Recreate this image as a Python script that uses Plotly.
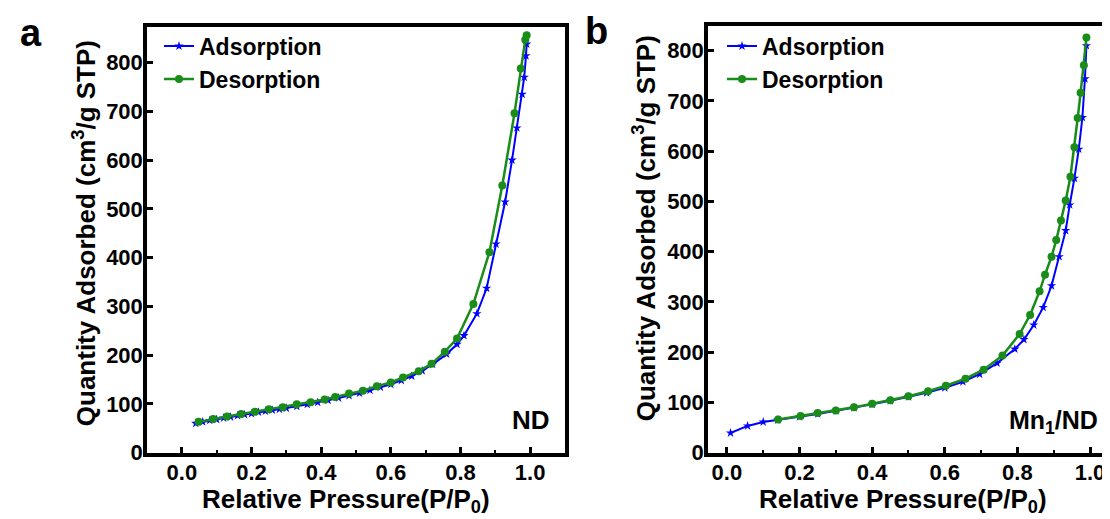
import plotly.graph_objects as go

W, H = 1110, 519

# ---------------- Data ----------------
# Panel a: ND
nd_ads_x = [0.04, 0.06, 0.08, 0.10, 0.12, 0.14, 0.16, 0.18, 0.20, 0.22, 0.24, 0.26, 0.28, 0.30,
            0.33, 0.36, 0.39, 0.42, 0.45, 0.48, 0.51, 0.54, 0.57, 0.60, 0.63, 0.66, 0.69, 0.72,
            0.76, 0.79, 0.81, 0.847, 0.875, 0.902, 0.928, 0.948, 0.962, 0.977, 0.983, 0.988, 0.99]
nd_ads_y = [60, 63, 66, 68, 71, 73, 76, 78, 80, 83, 85, 87, 89, 91,
            95, 99, 103, 107, 112, 117, 122, 128, 134, 140, 148, 157, 168, 181,
            202, 222, 240, 285, 337, 428, 514, 600, 666, 735, 770, 814, 838]
nd_des_x = [0.048, 0.09, 0.13, 0.17, 0.21, 0.25, 0.29, 0.33, 0.37, 0.41, 0.44, 0.48, 0.52, 0.56,
            0.60, 0.635, 0.68, 0.717, 0.755, 0.79, 0.837, 0.883, 0.92, 0.955, 0.973, 0.986, 0.99]
nd_des_y = [63, 69, 74, 79, 84, 89, 93, 99, 103, 109, 114, 121, 127, 136,
            144, 154, 167, 182, 207, 234, 305, 411, 548, 696, 788, 847, 856]

# Panel b: Mn1/ND
mn_ads_x = [0.01, 0.057, 0.10, 0.14, 0.20, 0.25, 0.30, 0.35, 0.40, 0.45, 0.50, 0.55, 0.60, 0.65,
            0.696, 0.744, 0.793, 0.818, 0.845, 0.871, 0.894, 0.915, 0.933, 0.944, 0.957, 0.969,
            0.979, 0.986, 0.99]
mn_ads_y = [39, 53, 61, 65, 71, 77, 83, 89, 96, 103, 111, 119, 129, 141,
            156, 178, 206, 225, 254, 289, 332, 390, 442, 493, 546, 604,
            667, 744, 810]
mn_des_x = [0.141, 0.203, 0.25, 0.30, 0.35, 0.40, 0.45, 0.50, 0.554, 0.603, 0.657, 0.707, 0.759,
            0.806, 0.835, 0.861, 0.876, 0.894, 0.907, 0.92, 0.933, 0.946, 0.957, 0.966, 0.974,
            0.983, 0.99]
mn_des_y = [66, 73, 79, 84, 90, 97, 104, 112, 122, 133, 147, 165, 193,
            236, 274, 321, 354, 390, 423, 462, 502, 549, 608, 666, 716,
            771, 826]

x_ticks = [0.0, 0.2, 0.4, 0.6, 0.8, 1.0]
x_tick_labels = ["0.0", "0.2", "0.4", "0.6", "0.8", "1.0"]
x_minor_ticks = [0.1, 0.3, 0.5, 0.7, 0.9]
y_ticks = [0, 100, 200, 300, 400, 500, 600, 700, 800]

BLUE = "#0000ff"
GREEN = "#1a8c1a"
FONT = "Liberation Sans"


def px(x):
    return x / W


def py(y):
    return 1 - y / H


fig = go.Figure()

fig.add_trace(go.Scatter(x=nd_ads_x, y=nd_ads_y, mode="lines+markers", name="Adsorption",
                         line=dict(color=BLUE, width=2),
                         marker=dict(symbol="star", size=7, color=BLUE),
                         xaxis="x", yaxis="y", legend="legend"))
fig.add_trace(go.Scatter(x=nd_des_x, y=nd_des_y, mode="lines+markers", name="Desorption",
                         line=dict(color=GREEN, width=2.5),
                         marker=dict(symbol="circle", size=8, color=GREEN),
                         xaxis="x", yaxis="y", legend="legend"))
fig.add_trace(go.Scatter(x=mn_ads_x, y=mn_ads_y, mode="lines+markers", name="Adsorption",
                         line=dict(color=BLUE, width=2),
                         marker=dict(symbol="star", size=7, color=BLUE),
                         xaxis="x2", yaxis="y2", legend="legend2"))
fig.add_trace(go.Scatter(x=mn_des_x, y=mn_des_y, mode="lines+markers", name="Desorption",
                         line=dict(color=GREEN, width=2.5),
                         marker=dict(symbol="circle", size=8, color=GREEN),
                         xaxis="x2", yaxis="y2", legend="legend2"))

axis_common = dict(showline=True, linecolor="black", linewidth=3.5, ticks="inside",
                   ticklen=6, tickwidth=3, tickcolor="black", showgrid=False, zeroline=False,
                   tickfont=dict(family=FONT, size=22, color="black", weight="bold"))
minor_x = dict(tickvals=x_minor_ticks, ticklen=3, tickwidth=2, tickcolor="black", ticks="inside")

fig.update_layout(
    width=W, height=H,
    margin=dict(l=0, r=0, t=0, b=0),
    paper_bgcolor="white", plot_bgcolor="white",
    xaxis=dict(domain=[px(139), px(557)], range=[-0.1, 1.1], anchor="y", mirror=True,
               tickvals=x_ticks, ticktext=x_tick_labels, minor=minor_x,
               ticklabelstandoff=-3, **axis_common),
    yaxis=dict(domain=[py(456), py(19)], range=[0, 874], anchor="x", mirror=True,
               tickvals=y_ticks, ticklabelstandoff=-4, **axis_common),
    xaxis2=dict(domain=[px(700), 1.0], range=[-0.052, 1.077], anchor="y2", mirror=True,
                tickvals=x_ticks, ticktext=x_tick_labels, minor=minor_x,
                ticklabelstandoff=-3, **axis_common),
    yaxis2=dict(domain=[py(456), py(18)], range=[0, 850], anchor="x2", mirror=False,
                tickvals=y_ticks, ticklabelstandoff=-4, **axis_common),
    legend=dict(x=px(151), y=py(17), xanchor="left", yanchor="top",
                bgcolor="rgba(0,0,0,0)", borderwidth=0, tracegroupgap=0,
                font=dict(family=FONT, size=23, color="black", weight="bold")),
    legend2=dict(x=px(714), y=py(17), xanchor="left", yanchor="top",
                 bgcolor="rgba(0,0,0,0)", borderwidth=0, tracegroupgap=0,
                 font=dict(family=FONT, size=23, color="black", weight="bold")),
    showlegend=True,
)

title_font = dict(family=FONT, size=26, color="black", weight="bold")
ann = [
    dict(text="Quantity Adsorbed (cm<sup>3</sup>/g STP)", x=px(76), y=py(231), textangle=-90),
    dict(text="Quantity Adsorbed (cm<sup>3</sup>/g STP)", x=px(636), y=py(226), textangle=-90),
    dict(text="Relative Pressure(P/P<sub>0</sub>)", x=px(338), y=py(505), textangle=0),
    dict(text="Relative Pressure(P/P<sub>0</sub>)", x=px(895), y=py(505), textangle=0),
]
for a in ann:
    fig.add_annotation(xref="paper", yref="paper", showarrow=False, font=title_font,
                       xanchor="center", yanchor="middle", **a)

label_font = dict(family=FONT, size=26, color="black", weight="bold")
fig.add_annotation(text="ND", xref="paper", yref="paper", x=px(544), y=py(423),
                   xanchor="right", yanchor="middle", showarrow=False, font=label_font)
fig.add_annotation(text="Mn<sub>1</sub>/ND", xref="paper", yref="paper", x=px(1092), y=py(425),
                   xanchor="right", yanchor="middle", showarrow=False,
                   font=dict(family=FONT, size=25, color="black", weight="bold"))

letter_font = dict(family=FONT, size=38, color="black", weight="bold")
fig.add_annotation(text="a", xref="paper", yref="paper", x=px(23), y=py(26),
                   xanchor="center", yanchor="middle", showarrow=False, font=letter_font)
fig.add_annotation(text="b", xref="paper", yref="paper", x=px(588), y=py(24),
                   xanchor="center", yanchor="middle", showarrow=False, font=letter_font)

fig.write_html("out.html")
